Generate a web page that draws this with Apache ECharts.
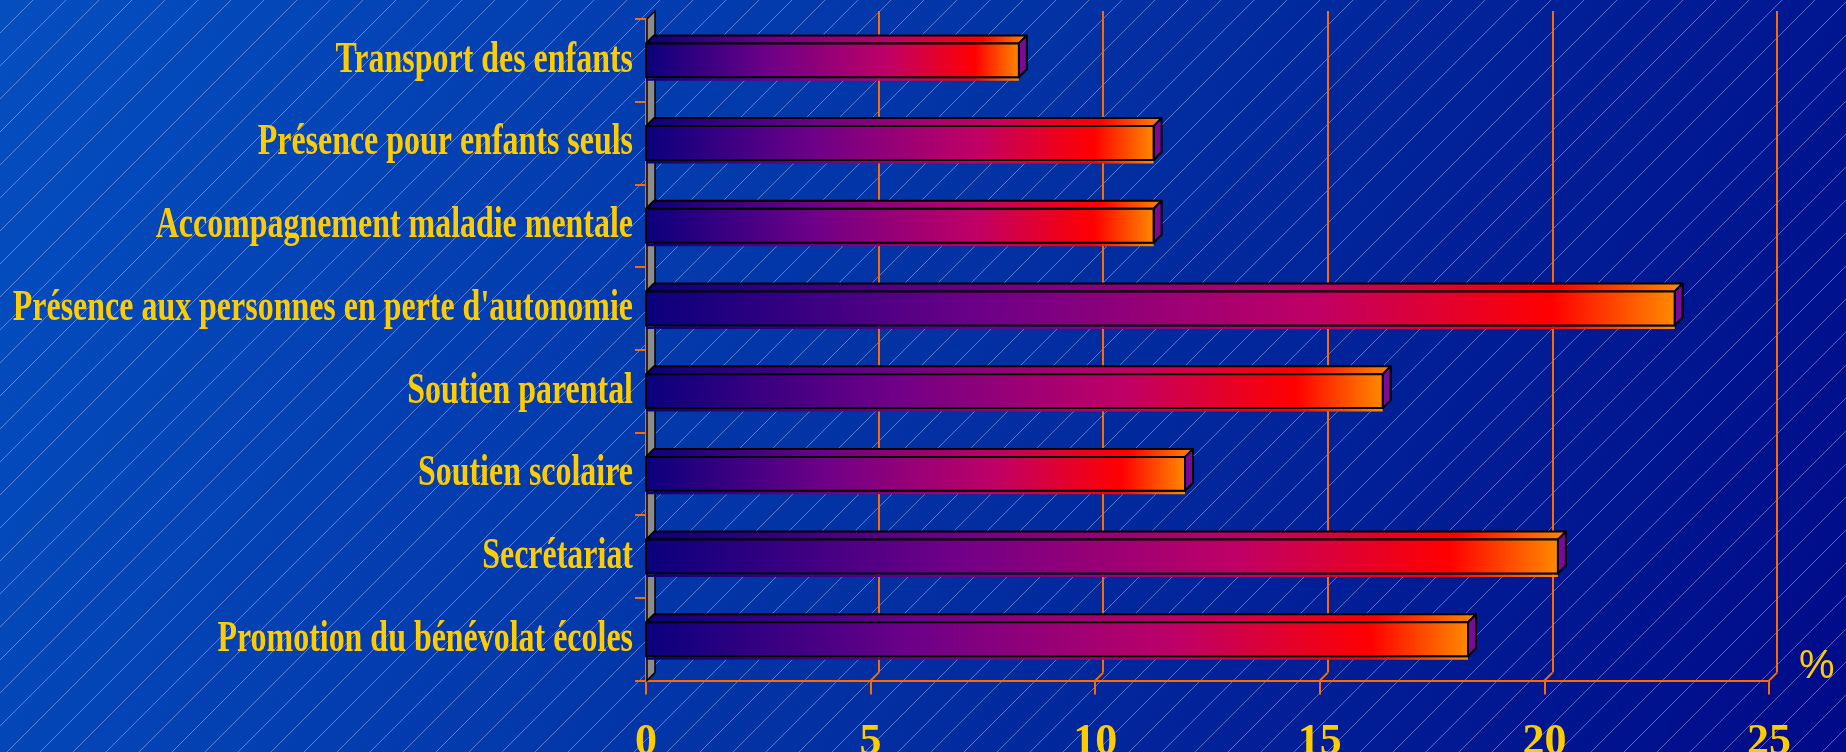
<!DOCTYPE html>
<html><head><meta charset="utf-8">
<script src="https://cdn.jsdelivr.net/npm/echarts@6/dist/echarts.min.js"></script>
<style>html,body{margin:0;padding:0;overflow:hidden;background:#0030a0}#c{width:1846px;height:752px}</style>
</head><body><div id="c"></div>
<script>
const categories = [
  'Transport des enfants',
  'Présence pour enfants seuls',
  'Accompagnement maladie mentale',
  "Présence aux personnes en perte d'autonomie",
  'Soutien parental',
  'Soutien scolaire',
  'Secrétariat',
  'Promotion du bénévolat écoles'
];
const values = [8.3, 11.3, 11.3, 22.9, 16.4, 12.0, 20.3, 18.3];
const xTicks = [0, 5, 10, 15, 20, 25];
const unitLabel = '%';

const DX = 8, DY = 8;
const ORANGE = '#FF6A00';
const GOLD = '#FFCC00';
const STOPS = [
  {offset: 0, color: '#0A007C'},
  {offset: 0.33, color: '#6E0088'},
  {offset: 0.65, color: '#C00066'},
  {offset: 0.88, color: '#FF0000'},
  {offset: 1, color: '#FF8A00'}
];

function hatch() {
  const s = 33;
  const c = document.createElement('canvas');
  c.width = s; c.height = s;
  const g = c.getContext('2d');
  g.strokeStyle = 'rgba(190,210,255,0.45)';
  g.lineWidth = 1;
  for (const o of [-s, 0, s]) {
    g.beginPath(); g.moveTo(o, s); g.lineTo(o + s, 0); g.stroke();
  }
  return c;
}

const chart = echarts.init(document.getElementById('c'), null, {renderer: 'canvas'});
const grad = () => new echarts.graphic.LinearGradient(0, 0, 1, 0, STOPS);

const bgHatch = {
  id: 'hatch', type: 'rect', silent: true, z: -10,
  shape: {x: 0, y: 0, width: 1846, height: 752},
  style: {fill: {image: hatch(), repeat: 'repeat'}}
};

const option = {
  animation: false,
  backgroundColor: new echarts.graphic.LinearGradient(0, 0, 1, 1, [
    {offset: 0, color: '#044EC0'},
    {offset: 0.5, color: '#0232A4'},
    {offset: 1, color: '#000A88'}
  ]),
  graphic: [bgHatch],
  grid: [
    {left: 646, right: 77, top: 19, bottom: 71.4, containLabel: false, outerBoundsMode: 'none'},
    {left: 646 + DX, right: 77 - DX, top: 19 - DY, bottom: 71.4 + DY, containLabel: false, outerBoundsMode: 'none'}
  ],
  xAxis: [
    {
      type: 'value', gridIndex: 0, min: 0, max: 25, interval: 5,
      axisLine: {show: true, lineStyle: {color: ORANGE, width: 2}},
      axisTick: {show: true, length: 14, lineStyle: {color: ORANGE, width: 2}},
      splitLine: {show: false},
      axisLabel: {color: GOLD, fontFamily: 'Liberation Serif', fontWeight: 'bold', fontSize: 44, margin: 40},
      name: unitLabel, nameLocation: 'end', nameGap: 30,
      nameTextStyle: {color: GOLD, fontFamily: 'Liberation Sans', fontSize: 40, align: 'left', verticalAlign: 'bottom', lineHeight: 28}
    },
    {
      type: 'value', gridIndex: 1, min: 0, max: 25, interval: 5,
      axisLine: {show: false}, axisTick: {show: false}, axisLabel: {show: false},
      splitLine: {show: true, lineStyle: {color: ORANGE, width: 2}}
    }
  ],
  yAxis: [
    {
      type: 'category', gridIndex: 0, data: categories, inverse: true,
      axisLine: {show: true, lineStyle: {color: ORANGE, width: 2}},
      axisTick: {show: true, length: 11, lineStyle: {color: ORANGE, width: 2}},
      splitLine: {show: false},
      axisLabel: {show: false}
    },
    {type: 'category', gridIndex: 1, data: categories, inverse: true, show: false}
  ],
  series: [
    {
      type: 'custom', name: 'connectors', xAxisIndex: 0, yAxisIndex: 0, silent: true, z: 1,
      encode: {x: 0, y: 1},
      data: xTicks.map(t => [t, 0]),
      renderItem(params, api) {
        const cs = params.coordSys;
        const x = api.coord([api.value(0), 0])[0];
        const yb = cs.y + cs.height;
        return {type: 'line', shape: {x1: x, y1: yb, x2: x + DX, y2: yb - DY},
          style: {stroke: ORANGE, lineWidth: 2}};
      }
    },
    {
      type: 'custom', name: 'wall', xAxisIndex: 0, yAxisIndex: 0, silent: true, z: 2,
      encode: {x: 0, y: 1},
      data: [[0, 0]],
      renderItem(params, api) {
        const cs = params.coordSys;
        const x = cs.x + 1, yt = cs.y, yb = cs.y + cs.height;
        return {type: 'polygon',
          shape: {points: [[x, yt], [x + DX, yt - DY], [x + DX, yb - DY], [x, yb]]},
          style: {fill: '#8C8C8C', stroke: '#000', lineWidth: 1.5}};
      }
    },
    {
      type: 'custom', name: 'bars', xAxisIndex: 0, yAxisIndex: 0, z: 3,
      encode: {x: 0, y: 1},
      data: values.map((v, i) => [v, i]),
      renderItem(params, api) {
        const v = api.value(0), c = api.value(1);
        const p0 = api.coord([0, c]), p1 = api.coord([v, c]);
        const band = api.size([0, 1])[1];
        const h = band * 0.41;
        const x0 = p0[0], x1 = p1[0];
        const y0 = p0[1] - h / 2, y1 = y0 + h;
        return {type: 'group', children: [
          {type: 'rect', shape: {x: x0, y: y1 + 1, width: x1 - x0, height: 2.5}, style: {fill: grad()}},
          {type: 'polygon', shape: {points: [[x0, y0], [x0 + DX, y0 - DY], [x1 + DX, y0 - DY], [x1, y0]]},
            style: {fill: grad(), stroke: '#000', lineWidth: 2, lineJoin: 'round'}},
          {type: 'polygon', shape: {points: [[x1, y0], [x1 + DX, y0 - DY], [x1 + DX, y1 - DY], [x1, y1]]},
            style: {fill: '#7B0A96', stroke: '#000', lineWidth: 2, lineJoin: 'round'}},
          {type: 'rect', shape: {x: x0, y: y0, width: x1 - x0, height: h},
            style: {fill: grad(), stroke: '#000', lineWidth: 2}}
        ]};
      }
    }
  ]
};
chart.setOption(option);

// Category labels: condensed serif (as in the reference), placed at the axis' own band centres.
const axisX = chart.convertToPixel({xAxisIndex: 0}, 0);
const catLabels = categories.map((name, i) => ({
  id: 'cat' + i, type: 'text', silent: true, z: 5,
  x: axisX - 13,
  y: chart.convertToPixel({yAxisIndex: 0}, i),
  scaleX: 0.726,
  style: {
    text: name, fill: GOLD,
    fontFamily: 'Liberation Serif', fontWeight: 'bold', fontSize: 44,
    align: 'right', verticalAlign: 'middle',
    textAlign: 'right', textVerticalAlign: 'middle'
  }
}));
chart.setOption({graphic: [bgHatch].concat(catLabels)});
</script>
</body></html>
